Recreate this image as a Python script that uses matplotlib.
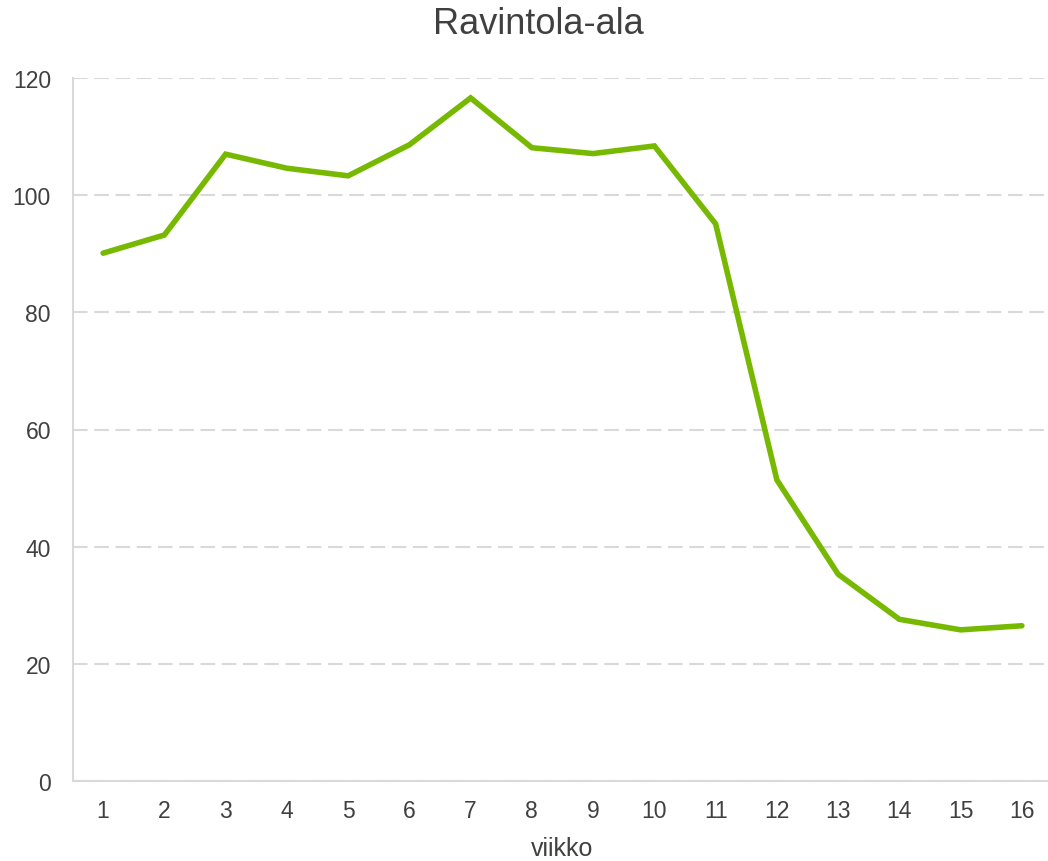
import matplotlib.pyplot as plt

plt.rcParams['font.family'] = ['Liberation Sans', 'DejaVu Sans']

weeks = list(range(1, 17))
values = [90.1, 93.2, 107.0, 104.6, 103.3, 108.6, 116.6, 108.1, 107.1, 108.4,
          95.1, 51.4, 35.3, 27.6, 25.8, 26.5]

text_color = '#404040'
fig = plt.figure(figsize=(10.48, 8.62), dpi=100)
ax = fig.add_axes([72.5 / 1048, 80 / 862, 980 / 1048, 703 / 862])

ax.plot(weeks, values, color='#76B900', linewidth=4, solid_capstyle='round',
        solid_joinstyle='miter', zorder=3)

ax.set_xlim(0.5, 16.5)
ax.set_ylim(0, 120)
ax.set_xticks(weeks)
ax.set_yticks(range(0, 121, 20))
ax.yaxis.grid(True, color='#D9D9D9', linestyle=(0, (7, 3.2)), linewidth=1.5)
ax.set_axisbelow(True)

for side in ['top', 'right']:
    ax.spines[side].set_visible(False)
for side in ['left', 'bottom']:
    ax.spines[side].set_color('#D9D9D9')
    ax.spines[side].set_linewidth(1.5)

ax.tick_params(length=0, labelsize=16.5, colors=text_color, pad=13)
ax.tick_params(axis='y', pad=15.5)
ax.set_xlabel('viikko', fontsize=18, color=text_color, labelpad=10)
fig.text(538 / 1048, 1 - 24 / 862, 'Ravintola-ala', fontsize=26,
         color=text_color, ha='center', va='center')

fig.savefig('out.png', dpi=100)
